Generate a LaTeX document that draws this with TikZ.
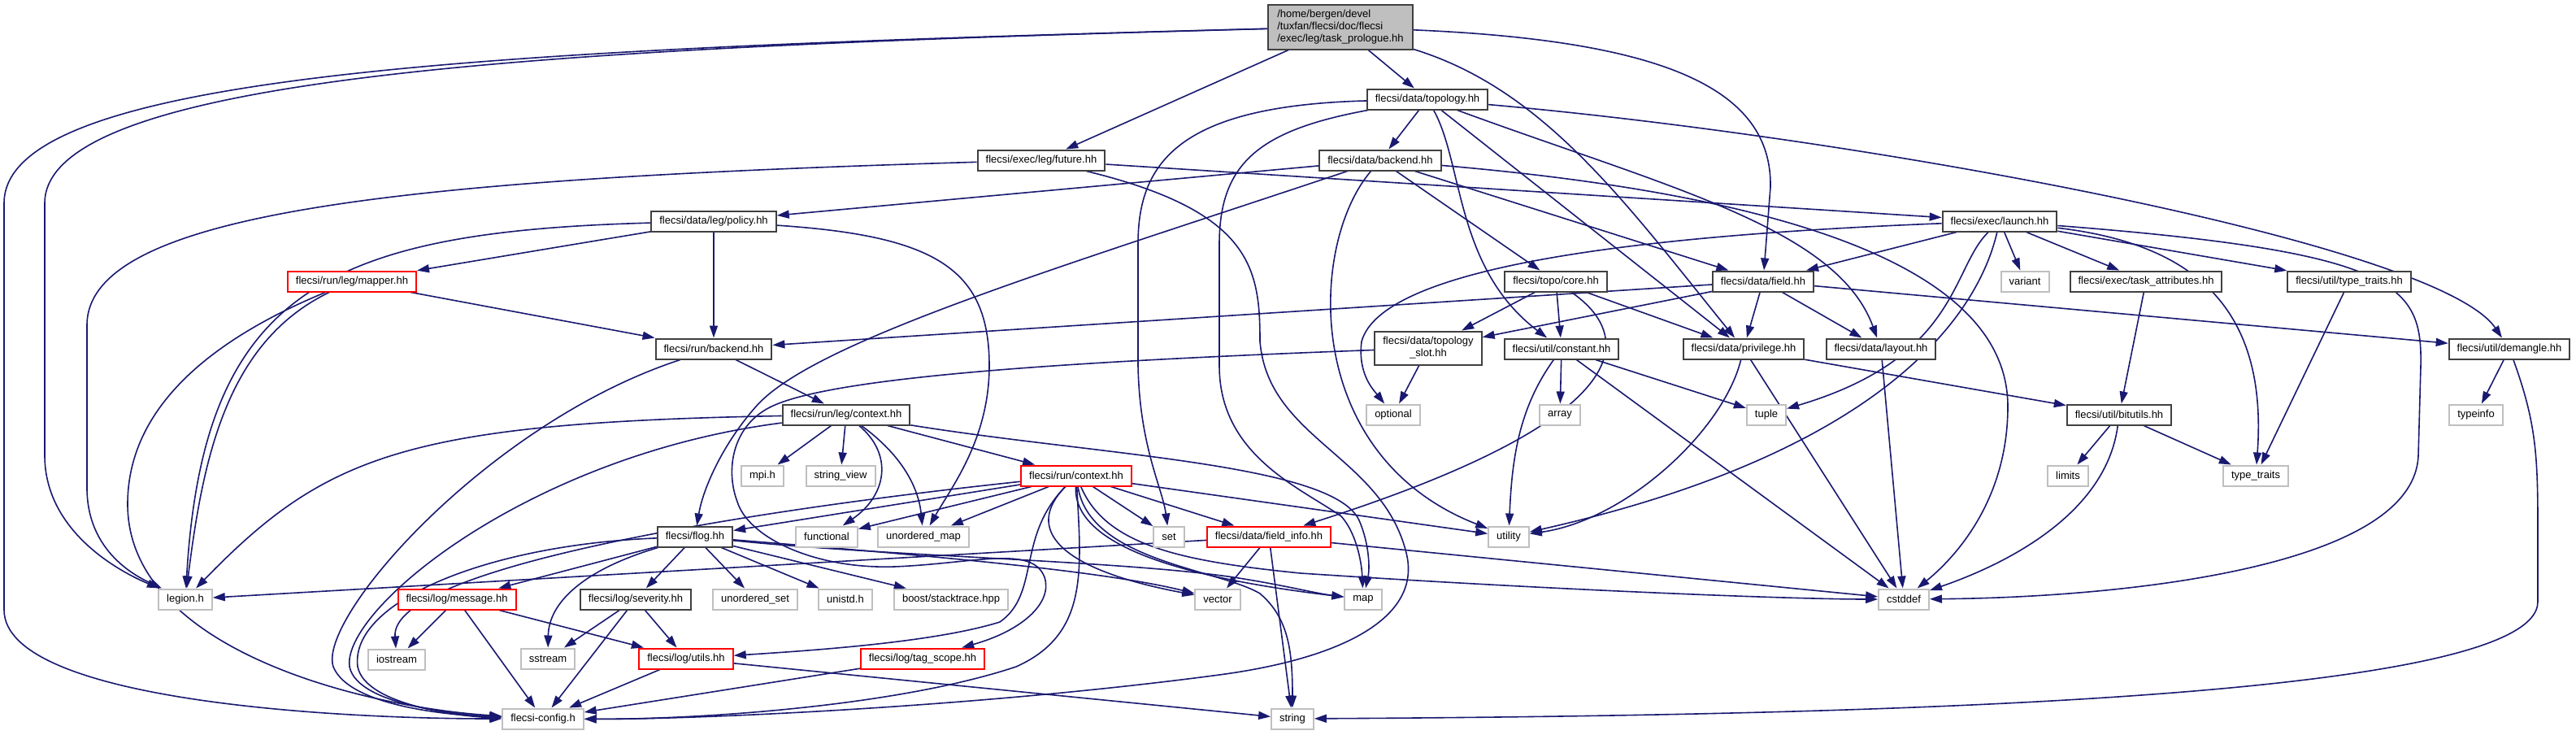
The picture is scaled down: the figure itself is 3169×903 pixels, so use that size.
\documentclass[tikz,border=0pt]{standalone}
\usepackage{fontspec}
\setmainfont{Liberation Sans}
\usetikzlibrary{arrows.meta}
\definecolor{edgec}{HTML}{191970}
\definecolor{boxk}{HTML}{404040}
\definecolor{boxg}{HTML}{BFBFBF}
\definecolor{boxr}{HTML}{FF0000}
\definecolor{fillg}{HTML}{BFBFBF}
\pgfdeclarelayer{bg}
\pgfsetlayers{bg,main}
\begin{document}
\begin{tikzpicture}[x=1pt,y=-1pt,
  font=\fontsize{13}{15}\selectfont,
  base/.style={rectangle, inner xsep=10pt, inner ysep=0pt, minimum height=25pt, line width=2pt, fill=white, text=black},
  kbox/.style={base, draw=boxk},
  gbox/.style={base, draw=boxg},
  rbox/.style={base, draw=boxr},
  e/.style={draw=edgec, line width=1.6pt, -{Triangle[length=15pt,width=10pt]}}]
\useasboundingbox (0,0) rectangle (3169,903);
% nodes
\node[kbox, fill=fillg, align=left, minimum width=178pt, minimum height=55pt, inner xsep=8pt] (prologue) at (1649,33) {/home/bergen/devel\\/tuxfan/flecsi/doc/flecsi\\/exec/leg/task\_prologue.hh};
\node[kbox] (future) at (1281,197) {flecsi/exec/leg/future.hh};
\node[kbox] (topology) at (1756,122) {flecsi/data/topology.hh};
\node[kbox] (databackend) at (1698,197) {flecsi/data/backend.hh};
\node[kbox] (policy) at (878,272) {flecsi/data/leg/policy.hh};
\node[kbox] (launch) at (2460,272) {flecsi/exec/launch.hh};
\node[rbox] (mapper) at (433,346) {flecsi/run/leg/mapper.hh};
\node[kbox] (runbackend) at (878,429) {flecsi/run/backend.hh};
\node[kbox] (topocore) at (1914,346) {flecsi/topo/core.hh};
\node[kbox] (field) at (2169,346) {flecsi/data/field.hh};
\node[gbox] (variant) at (2491,346) {variant};
\node[kbox] (taskattr) at (2640,346) {flecsi/exec/task\_attributes.hh};
\node[kbox] (utiltt) at (2890,346) {flecsi/util/type\_traits.hh};
\node[kbox, align=center, minimum height=41pt] (slot) at (1757,428) {flecsi/data/topology\\\_slot.hh};
\node[kbox] (constant) at (1921,429) {flecsi/util/constant.hh};
\node[kbox] (privilege) at (2145,429) {flecsi/data/privilege.hh};
\node[kbox] (layout) at (2314,429) {flecsi/data/layout.hh};
\node[kbox] (demangle) at (3087,429) {flecsi/util/demangle.hh};
\node[kbox] (legcontext) at (1041,510) {flecsi/run/leg/context.hh};
\node[gbox] (optional) at (1714,510) {optional};
\node[gbox] (array) at (1919,510) {array};
\node[gbox] (tuple) at (2173,510) {tuple};
\node[kbox] (bitutils) at (2607,510) {flecsi/util/bitutils.hh};
\node[gbox] (typeinfo) at (3046,510) {typeinfo};
\node[gbox] (mpi) at (938,585) {mpi.h};
\node[gbox] (stringview) at (1034,585) {string\_view};
\node[rbox] (runcontext) at (1324,585) {flecsi/run/context.hh};
\node[gbox] (limits) at (2544,585) {limits};
\node[gbox] (typetraits) at (2775,585) {type\_traits};
\node[kbox] (flog) at (855,660) {flecsi/flog.hh};
\node[gbox] (functional) at (1017,660) {functional};
\node[gbox] (umap) at (1136,660) {unordered\_map};
\node[gbox] (set) at (1438,660) {set};
\node[rbox] (fieldinfo) at (1561,660) {flecsi/data/field\_info.hh};
\node[gbox] (utility) at (1856,660) {utility};
\node[gbox] (legion) at (228,737) {legion.h};
\node[rbox] (message) at (562,737) {flecsi/log/message.hh};
\node[kbox] (severity) at (782,737) {flecsi/log/severity.hh};
\node[gbox] (uset) at (929,737) {unordered\_set};
\node[gbox] (unistd) at (1040,737) {unistd.h};
\node[gbox] (boost) at (1170,737) {boost/stacktrace.hpp};
\node[gbox] (vector) at (1498,737) {vector};
\node[gbox] (map) at (1677,737) {map};
\node[gbox] (cstddef) at (2342,737) {cstddef};
\node[gbox] (iostream) at (488,811) {iostream};
\node[gbox] (sstream) at (674,810) {sstream};
\node[rbox] (logutils) at (844,810) {flecsi/log/utils.hh};
\node[rbox] (tagscope) at (1135,810) {flecsi/log/tag\_scope.hh};
\node[gbox] (config) at (668,884) {flecsi-config.h};
\node[gbox] (string) at (1590,884) {string};
% edges
\begin{pgfonlayer}{bg}
\fill[white] (0,0) rectangle (3169,903);
% prologue
\draw[e] (prologue) .. controls (600,60) and (5,90) .. (5,250) -- (5,750) .. controls (5,860) and (400,884) .. (config);
\draw[e] (prologue) .. controls (700,58) and (55,90) .. (55,250) -- (55,560) .. controls (55,650) and (140,700) .. (legion);
\draw[e] (prologue) -- (future);
\draw[e] (prologue) -- (topology);
\draw[e] (prologue) .. controls (1900,110) and (2000,250) .. (privilege);
\draw[e] (prologue) .. controls (2050,50) and (2180,110) .. (2178,230) -- (field);
% future
\draw[e] (future) .. controls (500,220) and (107,260) .. (107,400) -- (107,600) .. controls (107,680) and (170,710) .. (legion);
\draw[e] (future) .. controls (1540,260) and (1550,330) .. (1550,420) .. controls (1560,540) and (1700,560) .. (1730,680) .. controls (1750,760) and (1650,810) .. (1500,830) .. controls (1200,870) and (850,885) .. (config);
\draw[e] (future) -- (launch);
% topology
\draw[e] (topology) .. controls (1450,130) and (1400,200) .. (1400,300) -- (1400,450) .. controls (1402,550) and (1430,600) .. (set);
\draw[e] (topology) .. controls (1550,160) and (1500,200) .. (1500,300) -- (1500,450) .. controls (1500,560) and (1600,600) .. (1650,635) .. controls (1668,655) and (1675,690) .. (map);
\draw[e] (topology) -- (databackend);
\draw[e] (topology) .. controls (1800,200) and (1790,330) .. (constant);
\draw[e] (topology) -- (privilege);
\draw[e] (topology) .. controls (2050,230) and (2260,280) .. (layout);
\draw[e] (topology) .. controls (2300,170) and (3000,300) .. (demangle);
% data backend
\draw[e] (databackend) -- (policy);
\draw[e] (databackend) .. controls (1300,330) and (1000,420) .. (930,500) .. controls (890,545) and (865,600) .. (flog);
\draw[e] (databackend) .. controls (1610,300) and (1600,560) .. (utility);
\draw[e] (databackend) -- (topocore);
\draw[e] (databackend) -- (field);
\draw[e] (databackend) .. controls (2200,240) and (2470,330) .. (2470,500) .. controls (2470,620) and (2400,690) .. (cstddef);
% policy
\draw[e] (policy) .. controls (400,285) and (250,360) .. (legion);
\draw[e] (policy) -- (mapper);
\draw[e] (policy) -- (runbackend);
\draw[e] (policy) .. controls (1150,290) and (1217,330) .. (1217,450) .. controls (1217,540) and (1170,600) .. (umap);
% mapper
\draw[e] (mapper) -- (runbackend);
\draw[e] (mapper) .. controls (280,420) and (250,560) .. (legion);
\draw[e] (mapper) .. controls (230,430) and (157,520) .. (157,620) .. controls (157,800) and (450,870) .. (config);
% run backend
\draw[e] (runbackend) .. controls (600,520) and (390,760) .. (410,820) .. controls (430,870) and (560,880) .. (config);
\draw[e] (runbackend) -- (legcontext);
% leg context
\draw[e] (legcontext) .. controls (500,520) and (400,560) .. (legion);
\draw[e] (legcontext) .. controls (650,560) and (420,750) .. (430,820) .. controls (440,870) and (580,880) .. (config);
\draw[e] (legcontext) -- (mpi);
\draw[e] (legcontext) -- (stringview);
\draw[e] (legcontext) .. controls (1100,560) and (1090,610) .. (functional);
\draw[e] (legcontext) .. controls (1110,560) and (1130,600) .. (umap);
\draw[e] (legcontext) -- (runcontext);
\draw[e] (legcontext) .. controls (1350,560) and (1640,570) .. (1672,640) .. controls (1685,670) and (1685,700) .. (map);
% run context
\draw[e] (runcontext) -- (flog);
\draw[e] (runcontext) .. controls (900,630) and (480,700) .. (iostream);
\draw[e] (runcontext) -- (functional);
\draw[e] (runcontext) -- (umap);
\draw[e] (runcontext) -- (set);
\draw[e] (runcontext) -- (fieldinfo);
\draw[e] (runcontext) -- (utility);
\draw[e] (runcontext) .. controls (1260,650) and (1300,700) .. (vector);
\draw[e] (runcontext) .. controls (1320,670) and (1450,710) .. (map);
\draw[e] (runcontext) .. controls (1340,690) and (1500,700) .. (1550,730) .. controls (1585,760) and (1590,800) .. (string);
\draw[e] (runcontext) .. controls (1360,670) and (1450,690) .. (1600,705) .. controls (1900,725) and (2200,737) .. (cstddef);
\draw[e] (runcontext) .. controls (1330,700) and (1340,780) .. (1250,820) .. controls (1100,870) and (850,885) .. (config);
\draw[e] (runcontext) .. controls (1250,660) and (1280,730) .. (1230,765) .. controls (1150,790) and (1000,800) .. (logutils);
% field
\draw[e] (field) -- (runbackend);
\draw[e] (field) -- (slot);
\draw[e] (field) -- (privilege);
\draw[e] (field) -- (layout);
\draw[e] (field) -- (demangle);
% topo core
\draw[e] (topocore) -- (slot);
\draw[e] (topocore) -- (constant);
\draw[e] (topocore) -- (privilege);
\draw[e] (topocore) .. controls (2020,420) and (2000,520) .. (fieldinfo);
% launch
\draw[e] (launch) -- (field);
\draw[e] (launch) .. controls (2000,290) and (1700,330) .. (1675,420) .. controls (1670,460) and (1690,480) .. (optional);
\draw[e] (launch) -- (variant);
\draw[e] (launch) -- (taskattr);
\draw[e] (launch) -- (utiltt);
\draw[e] (launch) .. controls (2700,300) and (2790,380) .. (typetraits);
\draw[e] (launch) .. controls (2400,330) and (2410,440) .. (tuple);
\draw[e] (launch) .. controls (2430,400) and (2300,560) .. (utility);
\draw[e] (launch) .. controls (2950,310) and (2980,350) .. (2978,450) -- (2975,560) .. controls (2970,700) and (2600,735) .. (cstddef);
% slot
\draw[e] (slot) -- (optional);
\draw[e] (slot) .. controls (1300,445) and (1000,465) .. (940,505) .. controls (900,530) and (893,580) .. (907,617) .. controls (920,660) and (1000,700) .. (1100,697) .. controls (1200,693) and (1270,670) .. (1285,710) .. controls (1295,740) and (1260,775) .. (tagscope);
% constant
\draw[e] (constant) .. controls (1870,500) and (1860,560) .. (utility);
\draw[e] (constant) -- (array);
\draw[e] (constant) -- (tuple);
\draw[e] (constant) -- (cstddef);
% privilege
\draw[e] (privilege) -- (bitutils);
\draw[e] (privilege) -- (cstddef);
\draw[e] (privilege) .. controls (2120,530) and (2000,640) .. (utility);
% misc
\draw[e] (layout) -- (cstddef);
\draw[e] (taskattr) -- (bitutils);
\draw[e] (utiltt) -- (typetraits);
\draw[e] (bitutils) -- (limits);
\draw[e] (bitutils) -- (typetraits);
\draw[e] (bitutils) .. controls (2590,640) and (2450,700) .. (cstddef);
\draw[e] (demangle) -- (typeinfo);
\draw[e] (demangle) .. controls (3120,520) and (3122,560) .. (3122,650) -- (3122,740) .. controls (3122,860) and (2300,880) .. (string);
% field info
\draw[e] (fieldinfo) -- (legion);
\draw[e] (fieldinfo) -- (vector);
\draw[e] (fieldinfo) -- (string);
\draw[e] (fieldinfo) -- (cstddef);
% log
\draw[e] (message) -- (iostream);
\draw[e] (message) -- (config);
\draw[e] (message) -- (logutils);
\draw[e] (severity) -- (sstream);
\draw[e] (severity) -- (config);
\draw[e] (severity) -- (logutils);
\draw[e] (logutils) -- (config);
\draw[e] (logutils) -- (string);
\draw[e] (tagscope) -- (config);
% flog
\draw[e] (flog) .. controls (600,670) and (430,740) .. (440,820) .. controls (450,870) and (580,882) .. (config);
\draw[e] (flog) .. controls (720,700) and (675,740) .. (sstream);
\draw[e] (flog) -- (message);
\draw[e] (flog) -- (severity);
\draw[e] (flog) -- (uset);
\draw[e] (flog) -- (unistd);
\draw[e] (flog) -- (boost);
\draw[e] (flog) .. controls (1100,680) and (1350,700) .. (vector);
\draw[e] (flog) .. controls (1100,685) and (1400,690) .. (1530,712) .. controls (1580,720) and (1620,730) .. (map);
\end{pgfonlayer}
\end{tikzpicture}
\end{document}
